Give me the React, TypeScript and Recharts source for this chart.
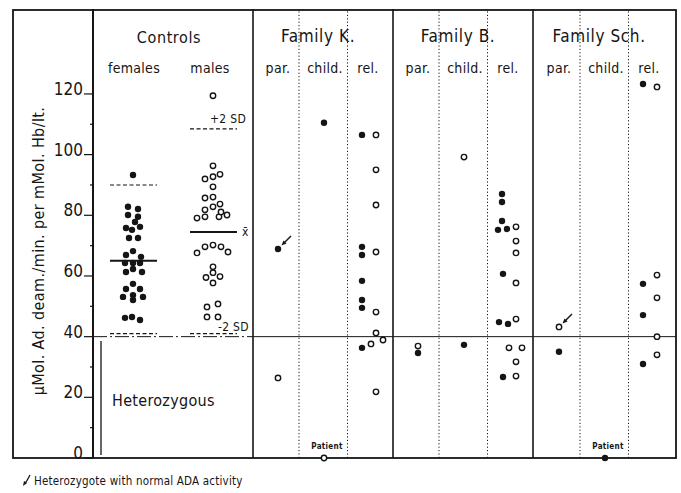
import React from 'react';
import { ScatterChart, Scatter, XAxis, YAxis, ReferenceLine } from 'recharts';

const FONT = "'Liberation Sans Narrow', 'DejaVu Sans Condensed', 'Arial Narrow', sans-serif";
const INK = '#151515';

// [value, horizontal jitter]
const controlFemales: [number, number][] = [
  [93.3, 0], [82.8, -5], [82.1, 5], [80.1, -5], [79.5, 5], [77.8, 2], [75.8, -7], [76.2, 7], [75.2, -1],
  [72.5, -4], [72.5, 5], [68.2, 0], [66.9, -7], [66.3, 8], [64.3, -8], [64.3, 0], [64.3, 7], [61.3, -7],
  [62.3, 0], [61.3, 9], [57.4, 0], [55.7, -7], [55.7, 7], [53.1, -10], [53.7, 0], [53.1, 10], [52.1, 0],
  [46.2, -8], [46.5, -1], [45.5, 7],
];
const controlMales: [number, number][] = [
  [119.4, 0], [96.3, 0], [92.0, -8], [92.7, 0], [93.5, 7], [89.4, 0], [85.7, -8], [86.0, 0],
  [81.8, -8], [82.8, 0], [83.7, 7], [79.1, -16], [79.5, -8], [79.5, 6], [81.1, 8], [80.1, 14],
  [67.6, -16], [69.6, -8], [70.2, 0], [69.6, 8], [67.9, 15], [63.0, 0], [61.1, 0], [59.5, -7],
  [59.8, 7], [57.7, 0], [49.8, -6], [50.8, 5], [46.5, -6], [46.5, 5],
];
const femalesMean = 65; const femalesPlus2SD = 90; const femalesMinus2SD = 41;
const malesMean = 74.5; const malesPlus2SD = 108.5; const malesMinus2SD = 41;
const heterozygoteLimit = 40;

const kParFilled: [number, number][] = [[68.9, 0]];
const kParOpen: [number, number][] = [[26.4, 0]];
const kChildFilled: [number, number][] = [[110.5, 0]];
const kChildPatient: [number, number][] = [[0, 0]];
const kRelFilled: [number, number][] = [[106.5, 0], [69.6, 0], [66.9, 0], [58.4, 0], [52.1, 0], [49.5, 0], [36.3, 0]];
const kRelOpen: [number, number][] = [[106.5, 0], [95.0, 0], [83.4, 0], [67.9, 0], [48.1, 0], [41.2, 0], [38.9, 7], [37.6, -5], [21.8, 0]];

const bParFilled: [number, number][] = [[34.6, 0]];
const bParOpen: [number, number][] = [[36.9, 0]];
const bChildFilled: [number, number][] = [[37.3, 0]];
const bChildOpen: [number, number][] = [[99.2, 0]];
const bRelFilled: [number, number][] = [[87.0, 0], [84.4, 0], [78.1, 0], [75.2, -4], [75.5, 5], [60.7, 1], [44.8, -3], [44.2, 6], [26.7, 1]];
const bRelOpen: [number, number][] = [[76.2, 0], [71.5, 0], [67.6, 0], [57.7, 0], [45.8, 0], [36.3, -7], [36.3, 6], [31.7, 0], [27.0, 0]];

const schParFilled: [number, number][] = [[35.0, 0]];
const schParOpen: [number, number][] = [[43.2, 0]];
const schChildPatient: [number, number][] = [[0, 0]];
const schRelFilled: [number, number][] = [[123.3, 0], [57.4, 0], [47.1, 0], [31.0, 0]];
const schRelOpen: [number, number][] = [[122.3, 0], [60.3, 0], [52.8, 0], [40.0, 0], [34.0, 0]];

const yTicks = [0, 10, 20, 30, 40, 50, 60, 70, 80, 90, 100, 110, 120];
const yLabel = 'µMol. Ad. deam./min. per mMol. Hb/lt.';

// layout (x axis units)
const W = 681; const H = 493;
const M = { top: 9, right: 5, bottom: 35, left: 13 };
const Y_AXIS_W = 80;
const X0 = M.left + Y_AXIS_W; // pixel of x = 0
const X_MAX = W - M.right - X0;
const CTRL = { females: 40, males: 120 };
const FAM = { K: 160, B: 300, Sch: 441 };
const DIVIDERS = [160, 300, 440];
const SUB = { par: 25, child: 71, relF: 109, relO: 123 };
const DOTTED = [46, 94.5];

const pts = (arr: [number, number][], x0: number) => arr.map(([v, dx]) => ({ x: x0 + dx, y: v }));

const Filled = (p: any) => <circle cx={p.cx} cy={p.cy} r={3.2} fill={INK} />;
const Open = (p: any) => <circle cx={p.cx} cy={p.cy} r={2.7} fill="#fff" stroke={INK} strokeWidth={1.4} />;
const Arrow = ({ cx, cy }: { cx: number; cy: number }) => (
  <g>
    <line x1={cx + 13} y1={cy - 13} x2={cx + 6} y2={cy - 6} stroke={INK} strokeWidth={1.4} />
    <polygon points={`${cx + 3.5},${cy - 3.5} ${cx + 8.5},${cy - 5.5} ${cx + 5.5},${cy - 8.5}`} fill={INK} />
  </g>
);
const FilledArrow = (p: any) => (<g><Arrow cx={p.cx} cy={p.cy} /><Filled {...p} /></g>);
const OpenArrow = (p: any) => (<g><Arrow cx={p.cx} cy={p.cy} /><Open {...p} /></g>);

const YTick = (props: any) => {
  const { x, y, payload } = props;
  const v = payload.value as number;
  const major = v % 20 === 0;
  return (
    <g>
      <line x1={x - (major ? 9 : 3)} x2={x} y1={y} y2={y} stroke={INK} strokeWidth={1.2} />
      {major && (
        <text x={x - 10} y={y + 1} textAnchor="end" fontSize={17} fontFamily={FONT} fill={INK}>{v}</text>
      )}
    </g>
  );
};

const T = (p: { x: number; y: number; s?: number; a?: 'start' | 'middle' | 'end'; w?: number; ls?: number; children: React.ReactNode }) => (
  <text x={p.x} y={p.y} fontSize={p.s ?? 16} textAnchor={p.a ?? 'middle'} fontFamily={FONT} fontWeight={p.w ?? 400}
    letterSpacing={p.ls ?? 0.6} fill={INK}>{p.children}</text>
);

const dotted = { stroke: INK, strokeWidth: 1, strokeDasharray: '1.2 2.2' };
const dashed = { stroke: INK, strokeWidth: 1.1, strokeDasharray: '4 2.5' };

export default function App() {
  const families: [string, number][] = [['Family K.', FAM.K], ['Family B.', FAM.B], ['Family Sch.', FAM.Sch]];
  return (
    <div style={{ position: 'absolute', left: 0, top: 0, width: W, height: H, background: '#fff' }}>
      <ScatterChart width={W} height={H} margin={M}>
        <XAxis type="number" dataKey="x" domain={[0, X_MAX]} hide />
        <YAxis type="number" dataKey="y" domain={[0, 148]} ticks={yTicks} interval={0} width={Y_AXIS_W}
          tickSize={0} tickMargin={0} tick={<YTick />} axisLine={{ stroke: INK, strokeWidth: 2 }} tickLine={false} />

        {DIVIDERS.map((x) => <ReferenceLine key={'d' + x} x={x} stroke={INK} strokeWidth={1.6} />)}
        {Object.values(FAM).map((s) => DOTTED.map((o) => <ReferenceLine key={'o' + s + o} x={s + o} {...dotted} />))}

        <ReferenceLine segment={[{ x: 0, y: heterozygoteLimit }, { x: DIVIDERS[0], y: heterozygoteLimit }]} stroke={INK} strokeWidth={1} strokeDasharray="14 3 2 3" />
        <ReferenceLine segment={[{ x: DIVIDERS[0], y: heterozygoteLimit }, { x: X_MAX, y: heterozygoteLimit }]} stroke={INK} strokeWidth={1} />

        <ReferenceLine segment={[{ x: CTRL.females - 23, y: femalesMean }, { x: CTRL.females + 24, y: femalesMean }]} stroke={INK} strokeWidth={2} />
        <ReferenceLine segment={[{ x: CTRL.females - 23, y: femalesPlus2SD }, { x: CTRL.females + 24, y: femalesPlus2SD }]} {...dashed} />
        <ReferenceLine segment={[{ x: CTRL.females - 23, y: femalesMinus2SD }, { x: CTRL.females + 24, y: femalesMinus2SD }]} {...dashed} />
        <ReferenceLine segment={[{ x: CTRL.males - 23, y: malesMean }, { x: CTRL.males + 24, y: malesMean }]} stroke={INK} strokeWidth={2} />
        <ReferenceLine segment={[{ x: CTRL.males - 23, y: malesPlus2SD }, { x: CTRL.males + 24, y: malesPlus2SD }]} {...dashed} />
        <ReferenceLine segment={[{ x: CTRL.males - 23, y: malesMinus2SD }, { x: CTRL.males + 24, y: malesMinus2SD }]} {...dashed} />

        <ReferenceLine segment={[{ x: 8, y: 1 }, { x: 8, y: 38.6 }]} stroke={INK} strokeWidth={1.3} />

        <Scatter data={pts(controlFemales, CTRL.females)} shape={Filled} isAnimationActive={false} />
        <Scatter data={pts(controlMales, CTRL.males)} shape={Open} isAnimationActive={false} />

        <Scatter data={pts(kParFilled, FAM.K + SUB.par)} shape={FilledArrow} isAnimationActive={false} />
        <Scatter data={pts(kParOpen, FAM.K + SUB.par)} shape={Open} isAnimationActive={false} />
        <Scatter data={pts(kChildFilled, FAM.K + SUB.child)} shape={Filled} isAnimationActive={false} />
        <Scatter data={pts(kChildPatient, FAM.K + SUB.child)} shape={Open} isAnimationActive={false} />
        <Scatter data={pts(kRelFilled, FAM.K + SUB.relF)} shape={Filled} isAnimationActive={false} />
        <Scatter data={pts(kRelOpen, FAM.K + SUB.relO)} shape={Open} isAnimationActive={false} />

        <Scatter data={pts(bParFilled, FAM.B + SUB.par)} shape={Filled} isAnimationActive={false} />
        <Scatter data={pts(bParOpen, FAM.B + SUB.par)} shape={Open} isAnimationActive={false} />
        <Scatter data={pts(bChildFilled, FAM.B + SUB.child)} shape={Filled} isAnimationActive={false} />
        <Scatter data={pts(bChildOpen, FAM.B + SUB.child)} shape={Open} isAnimationActive={false} />
        <Scatter data={pts(bRelFilled, FAM.B + SUB.relF)} shape={Filled} isAnimationActive={false} />
        <Scatter data={pts(bRelOpen, FAM.B + SUB.relO)} shape={Open} isAnimationActive={false} />

        <Scatter data={pts(schParFilled, FAM.Sch + SUB.par)} shape={Filled} isAnimationActive={false} />
        <Scatter data={pts(schParOpen, FAM.Sch + SUB.par)} shape={OpenArrow} isAnimationActive={false} />
        <Scatter data={pts(schChildPatient, FAM.Sch + SUB.child)} shape={Filled} isAnimationActive={false} />
        <Scatter data={pts(schRelFilled, FAM.Sch + SUB.relF)} shape={Filled} isAnimationActive={false} />
        <Scatter data={pts(schRelOpen, FAM.Sch + SUB.relO)} shape={Open} isAnimationActive={false} />

        {/* frame and texts */}
        <rect x={13} y={10} width={663} height={448} fill="none" stroke={INK} strokeWidth={1.8} />
        <text transform="translate(44,251) rotate(-90)" textAnchor="middle" fontSize={16} fontFamily={FONT} letterSpacing={0.4} fill={INK}>{yLabel}</text>

        <T x={169} y={43} s={16}>Controls</T>
        <T x={134} y={73} s={14} ls={0.3}>females</T>
        <T x={210} y={73} s={14} ls={0.3}>males</T>
        {families.map(([name, s]) => (
          <g key={name}>
            <T x={X0 + s + 65} y={42} s={17}>{name}</T>
            <T x={X0 + s + 25} y={73} s={14} ls={0.3}>par.</T>
            <T x={X0 + s + 72} y={73} s={14} ls={0.3}>child.</T>
            <T x={X0 + s + 115} y={73} s={14} ls={0.3}>rel.</T>
          </g>
        ))}
        <T x={210} y={123} s={12} a="start" ls={0.3}>+2 SD</T>
        <T x={242} y={236} s={12} a="start">x̄</T>
        <T x={218} y={331} s={12} a="start" ls={0.3}>-2 SD</T>
        <T x={112} y={406} s={16} a="start" ls={0.3}>Heterozygous</T>
        <T x={X0 + FAM.K + SUB.child + 3} y={449} s={8} w={700} ls={0.3}>Patient</T>
        <T x={X0 + FAM.Sch + SUB.child + 3} y={449} s={8} w={700} ls={0.3}>Patient</T>

        <line x1={30} y1={475} x2={25} y2={484} stroke={INK} strokeWidth={1.3} />
        <polygon points="23,486 24,481 27,483" fill={INK} />
        <T x={34} y={485} s={11.5} a="start" ls={0.2}>Heterozygote with normal ADA activity</T>
      </ScatterChart>
    </div>
  );
}
